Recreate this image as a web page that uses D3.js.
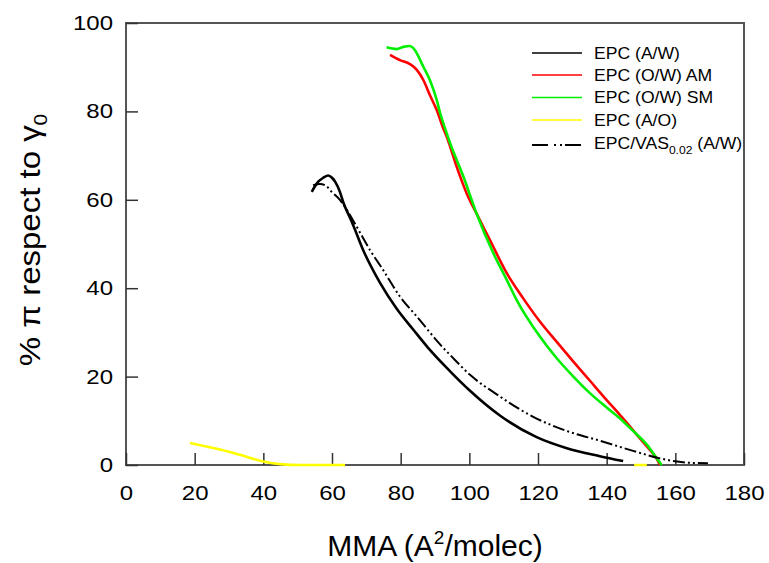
<!DOCTYPE html>
<html>
<head>
<meta charset="utf-8">
<script src="https://cdn.jsdelivr.net/npm/d3@7"></script>
<style>
  body { margin: 0; background: #fff; }
  svg { display: block; font-family: Arial, "Liberation Sans", sans-serif; }
</style>
</head>
<body>
<svg id="chart" width="769" height="563"></svg>
<script>
// Data: [MMA, % pi]
const epcAW = [[54.1, 61.8], [55.0, 63.0], [56.0, 64.1], [57.5, 65.0], [58.9, 65.5], [60.0, 65.0],
  [60.9, 64.1], [62.3, 61.8], [63.3, 59.4], [65.2, 56.0], [66.2, 54.2], [69.1, 48.6], [74.0, 41.2],
  [78.8, 35.4], [83.7, 30.6], [88.0, 26.5], [94.4, 21.2], [100.2, 16.8], [108.9, 11.2],
  [119.6, 6.3], [128.4, 3.8], [138.0, 2.0], [144.8, 0.9]];

const epcOWAM = [[76.9, 92.8], [79.8, 91.6], [82.7, 90.7], [84.7, 89.4], [86.6, 87.1], [88.5, 83.7],
  [90.5, 80.3], [92.4, 76.2], [93.4, 74.3], [96.3, 67.5], [99.2, 61.5], [102.1, 56.9], [106.0, 50.9],
  [110.9, 43.4], [115.7, 37.7], [120.6, 32.4], [125.4, 27.9], [130.3, 23.4], [135.2, 19.0],
  [140.0, 14.7], [143.9, 11.3], [146.8, 8.7], [148.7, 6.9], [152.6, 3.4], [154.6, 1.4], [155.5, 0]];

const epcOWSM = [[75.9, 94.5], [78.8, 94.1], [80.8, 94.6], [82.7, 94.8], [83.7, 94.3], [85.2, 92.4],
  [86.6, 90.1], [88.5, 87.1], [90.5, 82.6], [91.5, 79.6], [92.9, 76.2], [94.4, 72.8], [98.3, 65.2],
  [102.1, 56.9], [107.0, 47.9], [110.9, 41.9], [113.8, 37.3], [120.6, 29.0], [125.4, 24.2],
  [130.3, 20.0], [135.2, 16.2], [140.0, 13.0], [144.9, 9.8], [147.3, 8.0], [151.7, 4.6],
  [154.6, 1.5], [156.0, 0]];

// null = gap in the recorded curve
const epcAO = [[18.6, 5.0], [27.4, 3.5], [33.2, 2.3], [40.0, 0.8], [44.9, 0.2], [50.7, 0], [63.8, 0],
  null, [148.0, 0], [151.7, 0]];

const epcVAS = [[54.5, 63.3], [56.5, 63.6], [58.5, 63.0], [59.9, 61.8], [62.3, 60.0], [64.5, 57.5],
  [67.2, 53.9], [71.1, 48.6], [74.9, 44.1], [79.8, 38.1], [84.7, 33.6], [92.4, 26.5], [94.4, 24.9],
  [100.2, 20.4], [108.9, 15.5], [118.6, 10.9], [128.4, 7.7], [138.0, 5.5], [147.7, 3.2],
  [155.5, 1.5], [159.4, 0.9], [164.3, 0.5], [169.5, 0.4]];

const xTicks = [0, 20, 40, 60, 80, 100, 120, 140, 160, 180];
const yTicks = [0, 20, 40, 60, 80, 100];

const series = [
  { name: 'EPC (A/W)', data: epcAW, color: '#000', width: 2.6, dash: null },
  { name: 'EPC (O/W) AM', data: epcOWAM, color: '#ff0000', width: 2.6, dash: null },
  { name: 'EPC (O/W) SM', data: epcOWSM, color: '#00ee00', width: 2.6, dash: null },
  { name: 'EPC (A/O)', data: epcAO, color: '#ffff00', width: 2.6, dash: null },
  { name: 'EPC/VAS', sub: '0.02', tail: ' (A/W)', data: epcVAS, color: '#000', width: 2, dash: '12,3,2,3,2,3' }
];

const svg = d3.select('#chart');
const plot = { left: 126, right: 744, top: 23, bottom: 465 };

const x = d3.scaleLinear().domain([0, 180]).range([plot.left, plot.right]);
const y = d3.scaleLinear().domain([0, 100]).range([plot.bottom, plot.top]);

// Frame
svg.append('rect')
  .attr('x', plot.left).attr('y', plot.top)
  .attr('width', plot.right - plot.left).attr('height', plot.bottom - plot.top)
  .attr('fill', 'none').attr('stroke', '#555').attr('stroke-width', 2);

// Axes, ticks pointing in
const xAxis = svg.append('g')
  .attr('transform', `translate(0,${plot.bottom})`)
  .call(d3.axisBottom(x).tickValues(xTicks).tickSize(-12).tickPadding(21).tickFormat(d3.format('d')));

const yAxis = svg.append('g')
  .attr('transform', `translate(${plot.left},0)`)
  .call(d3.axisLeft(y).tickValues(yTicks).tickSize(-12).tickFormat(d3.format('d')));

[xAxis, yAxis].forEach(g => {
  g.select('.domain').remove();
  g.selectAll('.tick line').attr('stroke', '#333').attr('stroke-width', 1.5);
  g.selectAll('.tick text').attr('font-size', 20).attr('fill', '#000')
    .attr('font-family', 'Arial, "Liberation Sans", sans-serif');
});
// labels are a bit wider than plain Arial in the original
xAxis.selectAll('.tick text').attr('transform', 'scale(1.2,1)');
yAxis.selectAll('.tick text').attr('x', 0).attr('transform', 'translate(-13,0) scale(1.2,1)');

// Curves
const line = d3.line()
  .defined(d => d !== null)
  .curve(d3.curveMonotoneX)
  .x(d => x(d[0]))
  .y(d => y(d[1]));

svg.append('g').selectAll('path')
  .data(series)
  .join('path')
  .attr('d', d => line(d.data))
  .attr('fill', 'none')
  .attr('stroke', d => d.color)
  .attr('stroke-width', d => d.width)
  .attr('stroke-dasharray', d => d.dash)
  .attr('stroke-linejoin', 'round');

// Legend
const legendY = [53, 75, 97.5, 120, 145];
const legend = svg.append('g');
series.forEach((s, i) => {
  const row = legend.append('g').attr('transform', `translate(0,${legendY[i]})`);
  row.append('line')
    .attr('x1', 532).attr('x2', 582)
    .attr('stroke', s.color)
    .attr('stroke-width', s.dash ? 2 : 1.5)
    .attr('stroke-dasharray', s.dash ? '16,6,2,4,2,3' : null);
  const t = row.append('text')
    .attr('transform', `translate(594,${i === 4 ? -2 : 0}) scale(1.1,1)`)
    .attr('dy', '0.35em')
    .attr('font-size', 16)
    .text(s.name);
  if (s.sub) {
    t.append('tspan').attr('font-size', 11).attr('dy', 5).text(s.sub);
    t.append('tspan').attr('dy', -5).text(s.tail);
  }
});

// Axis titles
const xt = svg.append('text')
  .attr('x', 435).attr('y', 556)
  .attr('text-anchor', 'middle')
  .attr('font-size', 30)
  .text('MMA (A');
xt.append('tspan').attr('font-size', 19).attr('dy', -12).text('2');
xt.append('tspan').attr('dy', 12).text('/molec)');

const yt = svg.append('text')
  .attr('transform', 'translate(40,240) rotate(-90) scale(1.1,1)')
  .attr('text-anchor', 'middle')
  .attr('font-size', 30)
  .text('% \u03c0 respect to \u03b3');
yt.append('tspan').attr('font-size', 19).attr('dy', 7).text('0');
</script>
</body>
</html>
